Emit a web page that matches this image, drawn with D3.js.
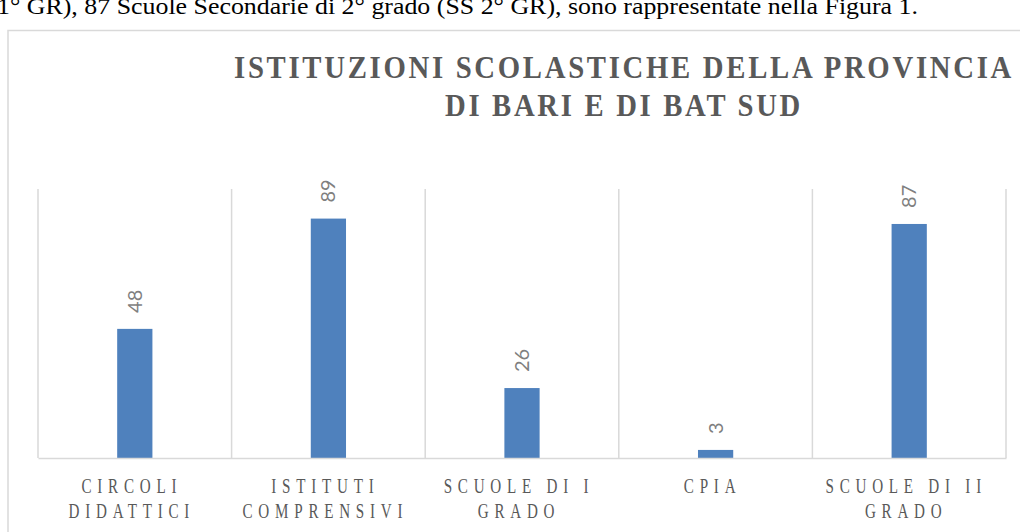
<!DOCTYPE html>
<html>
<head>
<meta charset="utf-8">
<script src="https://cdn.jsdelivr.net/npm/d3@7"></script>
<style>
  html, body { margin: 0; padding: 0; background: #fff; overflow: hidden; }
  svg { display: block; }
</style>
</head>
<body>
<svg id="chart" width="1020" height="532"></svg>
<script>
// Document line above the figure
const introText = "1° GR), 87 Scuole Secondarie di 2° grado (SS 2° GR), sono rappresentate nella Figura 1.";

// Chart title (two lines)
const titleLines = ["ISTITUZIONI SCOLASTICHE DELLA PROVINCIA", "DI BARI E DI BAT SUD"];

// Categories (each split on two lines) and values
const categories = [
  ["CIRCOLI", "DIDATTICI"],
  ["ISTITUTI", "COMPRENSIVI"],
  ["SCUOLE DI I", "GRADO"],
  ["CPIA"],
  ["SCUOLE DI II", "GRADO"]
];
const values = [48, 89, 26, 3, 87];
const yDomain = [0, 100];

const svg = d3.select("#chart");

// Plot area
const plot = { left: 38, right: 1006, top: 189, bottom: 458 };

// Document text running above the figure
svg.append("text")
  .attr("x", -3).attr("y", 14)
  .attr("font-family", "'Liberation Serif', 'Times New Roman', serif")
  .attr("font-size", 23)
  .attr("fill", "#000")
  .attr("textLength", 921)
  .attr("lengthAdjust", "spacingAndGlyphs")
  .text(introText);

// Chart frame
svg.append("rect")
  .attr("x", 8).attr("y", 30.5)
  .attr("width", 1100).attr("height", 600)
  .attr("fill", "none")
  .attr("stroke", "#d9d9d9")
  .attr("stroke-width", 1.5);

// Title
const titleX = 624;
const titleSpecs = [
  { y: 78, len: 780 },
  { y: 116, len: 358 }
];
titleLines.forEach((t, i) => {
  svg.append("text")
    .attr("x", titleX).attr("y", titleSpecs[i].y)
    .attr("text-anchor", "middle")
    .attr("font-family", "'Liberation Serif', 'DejaVu Serif', serif")
    .attr("font-weight", "bold")
    .attr("font-size", 32)
    .attr("letter-spacing", 3)
    .attr("fill", "#595959")
    .attr("textLength", titleSpecs[i].len)
    .attr("lengthAdjust", "spacingAndGlyphs")
    .text(t);
});

// Scales
const x = d3.scaleBand()
  .domain(d3.range(categories.length))
  .range([plot.left, plot.right])
  .paddingInner(0).paddingOuter(0);

const y = d3.scaleLinear()
  .domain(yDomain)
  .range([plot.bottom, plot.top]);

const barW = x.bandwidth() * 0.182;

// Vertical category separators
const sepPositions = d3.range(categories.length + 1).map(i =>
  i < categories.length ? x(i) : x(categories.length - 1) + x.bandwidth());
svg.append("g")
  .selectAll("line")
  .data(sepPositions)
  .join("line")
  .attr("x1", d => d).attr("x2", d => d)
  .attr("y1", y(yDomain[1])).attr("y2", y(0))
  .attr("stroke", "#d9d9d9")
  .attr("stroke-width", 1.5);

// Bars
svg.append("g")
  .selectAll("rect")
  .data(values)
  .join("rect")
  .attr("x", (d, i) => x(i) + x.bandwidth() / 2 - barW / 2)
  .attr("y", d => y(d))
  .attr("width", barW)
  .attr("height", d => y(0) - y(d))
  .attr("fill", "#4f81bd");

// Baseline axis
const xAxis = d3.axisBottom(x).tickSize(0).tickFormat(() => "");
const axisG = svg.append("g")
  .attr("transform", `translate(0,${y(0)})`)
  .call(xAxis);
axisG.select(".domain").attr("stroke", "#d9d9d9").attr("stroke-width", 1.5);

// Value labels, rotated
svg.append("g")
  .selectAll("text")
  .data(values)
  .join("text")
  .attr("transform", (d, i) =>
    `translate(${x(i) + x.bandwidth() / 2 + 7},${y(d) - 16}) rotate(-90)`)
  .attr("text-anchor", "start")
  .attr("font-family", "Lato, 'Open Sans', sans-serif")
  .attr("font-size", 20)
  .attr("fill", "#7f7f7f")
  .text(d => d);

// Category labels
const catG = svg.append("g");
categories.forEach((lines, i) => {
  const cx = x(i) + x.bandwidth() / 2 - 3;
  lines.forEach((ln, j) => {
    catG.append("text")
      .attr("transform", `translate(${cx},${493 + j * 25}) scale(0.72,1)`)
      .attr("text-anchor", "middle")
      .attr("font-family", "'Liberation Serif', 'Times New Roman', serif")
      .attr("font-size", 21)
      .attr("letter-spacing", 8)
      .attr("fill", "#595959")
      .text(ln);
  });
});
</script>
</body>
</html>
